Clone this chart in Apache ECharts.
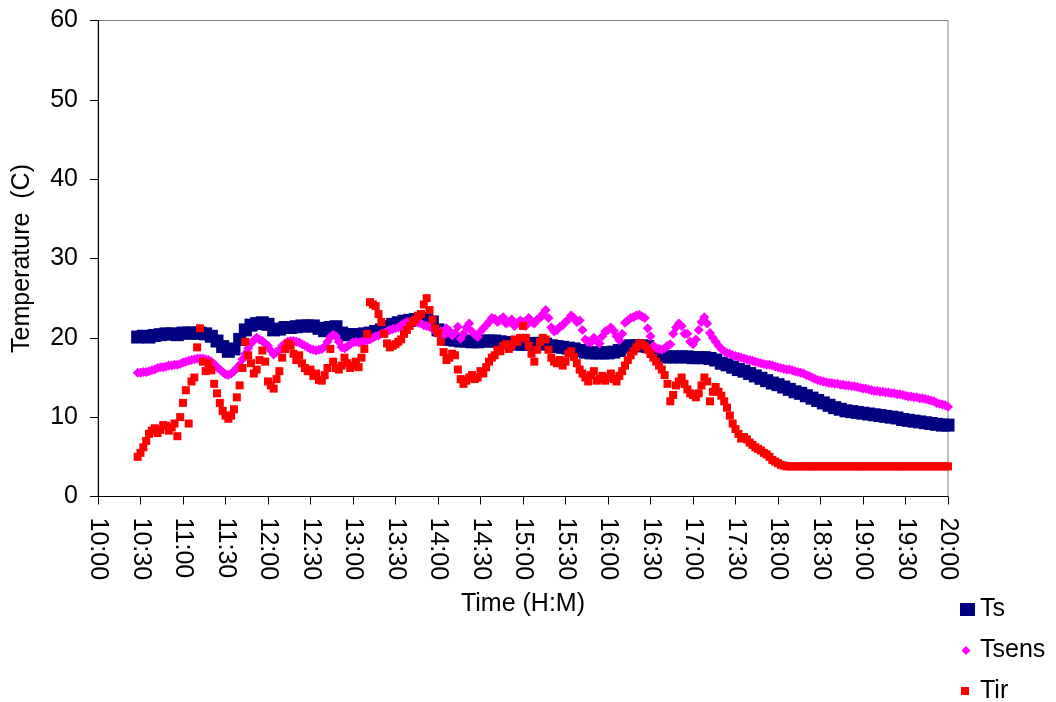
<!DOCTYPE html>
<html>
<head>
<meta charset="utf-8">
<script src="https://cdn.jsdelivr.net/npm/echarts@6/dist/echarts.min.js"></script>
<style>
  html, body { margin: 0; padding: 0; background: #ffffff; }
  #chart { width: 1056px; height: 702px; }
</style>
</head>
<body>
<div id="chart"></div>
<script>
// Ts readings, one every 4 minutes (H:MM)
const tsTimes = [
  '10:28','10:32','10:36','10:40','10:44','10:48','10:52','10:56',
  '11:00','11:04','11:08','11:12','11:16','11:20','11:24','11:28','11:32','11:36','11:40','11:44','11:48','11:52','11:56',
  '12:00','12:04','12:08','12:12','12:16','12:20','12:24','12:28','12:32','12:36','12:40','12:44','12:48','12:52','12:56',
  '13:00','13:04','13:08','13:12','13:16','13:20','13:24','13:28','13:32','13:36','13:40','13:44','13:48','13:52','13:56',
  '14:00','14:04','14:08','14:12','14:16','14:20','14:24','14:28','14:32','14:36','14:40','14:44','14:48','14:52','14:56',
  '15:00','15:04','15:08','15:12','15:16','15:20','15:24','15:28','15:32','15:36','15:40','15:44','15:48','15:52','15:56',
  '16:00','16:04','16:08','16:12','16:16','16:20','16:24','16:28','16:32','16:36','16:40','16:44','16:48','16:52','16:56',
  '17:00','17:04','17:08','17:12','17:16','17:20','17:24','17:28','17:32','17:36','17:40','17:44','17:48','17:52','17:56',
  '18:00','18:04','18:08','18:12','18:16','18:20','18:24','18:28','18:32','18:36','18:40','18:44','18:48','18:52','18:56',
  '19:00','19:04','19:08','19:12','19:16','19:20','19:24','19:28','19:32','19:36','19:40','19:44','19:48','19:52','19:56',
  '20:00'
];

// Surface temperature Ts (C)
const tsValues = [
  20.1, 20.2, 20.1, 20.3, 20.4, 20.5, 20.5, 20.4,
  20.6, 20.6, 20.6, 20.6, 20.5, 20.2, 19.6, 18.9, 18.3, 18.6, 19.8, 21.0, 21.6, 21.8, 21.9,
  21.7, 21.0, 21.1, 21.3, 21.3, 21.4, 21.5, 21.5, 21.5, 21.2, 20.9, 21.3, 21.4, 20.6, 20.4,
  20.4, 20.4, 20.5, 20.6, 20.8, 21.0, 21.4, 21.7, 21.9, 22.1, 22.2, 22.3, 22.4, 22.4, 22.0,
  21.0, 20.2, 19.8, 19.7, 19.6, 19.6, 19.5, 19.5, 19.6, 19.6, 19.6, 19.5, 19.4, 19.3, 19.2,
  19.2, 19.2, 19.3, 19.3, 19.2, 19.0, 18.9, 18.8, 18.7, 18.6, 18.4, 18.2, 18.1, 18.1, 18.1,
  18.1, 18.2, 18.4, 18.8, 19.0, 19.0, 19.0, 18.9, 18.3, 17.8, 17.6, 17.6, 17.6, 17.6, 17.6,
  17.5, 17.5, 17.5, 17.4, 17.2, 16.8, 16.6, 16.3, 16.0, 15.8, 15.5, 15.2, 14.9, 14.6, 14.3,
  14.1, 13.8, 13.5, 13.2, 13.0, 12.7, 12.4, 12.1, 11.8, 11.5, 11.2, 11.0, 10.8, 10.7, 10.6,
  10.5, 10.4, 10.3, 10.2, 10.1, 10.0, 9.9, 9.7, 9.6, 9.5, 9.4, 9.3, 9.2, 9.1, 9.0,
  9.0
];

// Tsens and Tir readings, one every 2 minutes (H:MM)
const fastTimes = [
  '10:28','10:30','10:32','10:34','10:36','10:38','10:40','10:42','10:44','10:46','10:48','10:50','10:52','10:54','10:56','10:58',
  '11:00','11:02','11:04','11:06','11:08','11:10','11:12','11:14','11:16','11:18','11:20','11:22','11:24','11:26','11:28',
  '11:30','11:32','11:34','11:36','11:38','11:40','11:42','11:44','11:46','11:48','11:50','11:52','11:54','11:56','11:58',
  '12:00','12:02','12:04','12:06','12:08','12:10','12:12','12:14','12:16','12:18','12:20','12:22','12:24','12:26','12:28',
  '12:30','12:32','12:34','12:36','12:38','12:40','12:42','12:44','12:46','12:48','12:50','12:52','12:54','12:56','12:58',
  '13:00','13:02','13:04','13:06','13:08','13:10','13:12','13:14','13:16','13:18','13:20','13:22','13:24','13:26','13:28',
  '13:30','13:32','13:34','13:36','13:38','13:40','13:42','13:44','13:46','13:48','13:50','13:52','13:54','13:56','13:58',
  '14:00','14:02','14:04','14:06','14:08','14:10','14:12','14:14','14:16','14:18','14:20','14:22','14:24','14:26','14:28',
  '14:30','14:32','14:34','14:36','14:38','14:40','14:42','14:44','14:46','14:48','14:50','14:52','14:54','14:56','14:58',
  '15:00','15:02','15:04','15:06','15:08','15:10','15:12','15:14','15:16','15:18','15:20','15:22','15:24','15:26','15:28',
  '15:30','15:32','15:34','15:36','15:38','15:40','15:42','15:44','15:46','15:48','15:50','15:52','15:54','15:56','15:58',
  '16:00','16:02','16:04','16:06','16:08','16:10','16:12','16:14','16:16','16:18','16:20','16:22','16:24','16:26','16:28',
  '16:30','16:32','16:34','16:36','16:38','16:40','16:42','16:44','16:46','16:48','16:50','16:52','16:54','16:56','16:58',
  '17:00','17:02','17:04','17:06','17:08','17:10','17:12','17:14','17:16','17:18','17:20','17:22','17:24','17:26','17:28',
  '17:30','17:32','17:34','17:36','17:38','17:40','17:42','17:44','17:46','17:48','17:50','17:52','17:54','17:56','17:58',
  '18:00','18:02','18:04','18:06','18:08','18:10','18:12','18:14','18:16','18:18','18:20','18:22','18:24','18:26','18:28',
  '18:30','18:32','18:34','18:36','18:38','18:40','18:42','18:44','18:46','18:48','18:50','18:52','18:54','18:56','18:58',
  '19:00','19:02','19:04','19:06','19:08','19:10','19:12','19:14','19:16','19:18','19:20','19:22','19:24','19:26','19:28',
  '19:30','19:32','19:34','19:36','19:38','19:40','19:42','19:44','19:46','19:48','19:50','19:52','19:54','19:56','19:58',
  '20:00'
];

// Sensor temperature Tsens (C)
const tsensValues = [
  15.6, 15.6, 15.7, 15.7, 15.8, 15.9, 16.0, 16.2, 16.3, 16.3, 16.4, 16.5, 16.5, 16.6, 16.6, 16.7,
  16.9, 17.0, 17.1, 17.2, 17.3, 17.4, 17.4, 17.4, 17.3, 17.2, 17.0, 16.7, 16.3, 16.0, 15.7,
  15.4, 15.3, 15.5, 15.8, 16.2, 16.6, 17.3, 18.0, 18.7, 19.3, 19.7, 20.0, 19.8, 19.6, 19.3,
  19.0, 18.4, 17.9, 18.2, 18.5, 19.0, 19.3, 19.5, 19.6, 19.6, 19.5, 19.4, 19.2, 19.0, 18.8,
  18.6, 18.5, 18.4, 18.5, 18.6, 18.9, 19.5, 20.1, 20.4, 20.2, 19.5, 18.8, 18.7, 18.9, 19.2,
  19.4, 19.5, 19.4, 19.5, 19.6, 19.7, 19.8, 20.0, 20.2, 20.3, 20.5, 20.6, 20.8, 21.0, 21.1,
  21.2, 21.3, 21.6, 21.8, 22.0, 22.0, 22.1, 22.0, 21.9, 21.8, 21.6, 21.5, 21.4, 21.2, 20.9,
  20.5, 20.8, 20.3, 21.2, 20.9, 20.3, 20.6, 21.4, 19.9, 20.5, 21.3, 21.8, 20.8, 20.4, 20.1,
  20.8, 21.2, 21.6, 22.0, 22.5, 22.4, 22.0, 22.3, 22.6, 21.8, 22.0, 22.3, 21.5, 21.8, 22.2,
  22.0, 21.5, 22.5, 22.0, 21.8, 22.3, 22.5, 23.0, 23.5, 22.5, 21.3, 20.8, 21.0, 21.4, 21.6,
  22.0, 22.3, 22.8, 22.5, 22.0, 22.2, 21.0, 19.8, 19.5, 19.4, 20.0, 19.6, 19.3, 20.2, 20.8,
  21.0, 21.3, 20.9, 20.2, 19.7, 20.5, 21.9, 22.2, 22.5, 22.6, 22.8, 22.9, 22.7, 22.5, 21.2,
  20.2, 19.0, 18.7, 18.6, 18.5, 18.7, 19.0, 19.2, 20.5, 21.3, 21.8, 21.5, 20.5, 20.5, 19.5,
  19.2, 19.8, 21.0, 22.0, 22.6, 21.8, 20.6, 20.0, 19.5, 19.0, 18.6, 18.3, 18.1, 18.0, 17.8,
  17.7, 17.6, 17.5, 17.4, 17.3, 17.2, 17.1, 17.0, 16.9, 16.8, 16.7, 16.6, 16.6, 16.5, 16.4,
  16.3, 16.2, 16.1, 16.0, 16.0, 15.9, 15.8, 15.7, 15.6, 15.5, 15.3, 15.2, 15.0, 14.8, 14.7,
  14.6, 14.5, 14.4, 14.3, 14.3, 14.2, 14.2, 14.1, 14.1, 14.0, 14.0, 13.9, 13.9, 13.8, 13.7,
  13.6, 13.6, 13.5, 13.4, 13.3, 13.3, 13.2, 13.2, 13.1, 13.1, 13.0, 13.0, 12.9, 12.9, 12.8,
  12.7, 12.6, 12.6, 12.5, 12.5, 12.4, 12.4, 12.3, 12.2, 12.1, 12.0, 11.8, 11.7, 11.6, 11.5,
  11.3
];

// Infrared temperature Tir (C)
const tirValues = [
  5.0, 5.5, 6.2, 7.0, 7.9, 8.3, 8.6, 8.0, 8.4, 9.0, 8.9, 8.3, 8.7, 9.2, 7.6, 10.0,
  11.8, 13.4, 9.2, 14.5, 15.0, 18.8, 21.2, 17.0, 15.8, 16.8, 15.9, 14.2, 13.0, 11.8, 10.8,
  10.2, 9.8, 10.2, 11.0, 12.5, 14.0, 16.2, 19.5, 17.8, 16.8, 15.5, 16.0, 17.2, 18.4, 17.0,
  14.5, 14.0, 13.6, 14.8, 15.8, 17.5, 18.6, 19.3, 19.0, 18.0, 17.2, 17.8, 16.8, 16.2, 15.8,
  16.0, 15.2, 15.5, 14.7, 14.6, 15.3, 16.2, 18.6, 17.0, 16.2, 16.0, 16.5, 17.5, 16.8, 16.2,
  16.5, 17.0, 16.3, 17.5, 18.6, 20.5, 24.5, 24.2, 24.0, 23.0, 22.0, 20.5, 19.3, 18.8, 19.0,
  19.2, 19.5, 19.8, 20.5, 21.0, 21.5, 22.0, 22.3, 22.8, 23.0, 24.2, 25.0, 23.5, 22.3, 21.2,
  20.6, 19.5, 18.2, 17.2, 17.5, 18.0, 17.8, 16.0, 14.8, 14.2, 14.6, 15.0, 15.3, 14.8, 15.0,
  15.8, 15.5, 16.3, 17.0, 17.5, 17.8, 18.5, 18.3, 19.0, 19.2, 18.6, 19.0, 19.8, 19.5, 20.0,
  21.5, 20.0, 19.0, 18.0, 17.0, 18.5, 19.5, 20.0, 19.8, 18.5, 17.5, 17.0, 16.8, 17.2, 16.5,
  17.0, 18.0, 18.3, 17.6, 16.8, 16.0, 15.5, 15.0, 14.5, 15.3, 15.8, 14.6, 14.8, 15.2, 14.6,
  15.0, 15.5, 14.8, 14.5, 15.2, 15.8, 16.5, 17.2, 17.8, 18.3, 18.8, 19.3, 19.2, 19.0, 18.5,
  18.0, 17.5, 17.0, 16.5, 16.0, 15.3, 14.2, 12.0, 12.8, 14.0, 14.5, 15.0, 14.2, 13.5, 13.0,
  12.8, 12.5, 13.0, 14.0, 15.0, 14.5, 12.0, 13.2, 13.8, 13.2, 12.7, 12.0, 11.2, 10.2, 9.2,
  8.5, 7.9, 7.3, 7.5, 7.2, 6.8, 6.5, 6.2, 6.0, 5.8, 5.5, 5.3, 5.0, 4.6, 4.4,
  4.2, 4.0, 3.9, 3.8, 3.8, 3.8, 3.8, 3.8, 3.8, 3.8, 3.8, 3.8, 3.8, 3.8, 3.8,
  3.8, 3.8, 3.8, 3.8, 3.8, 3.8, 3.8, 3.8, 3.8, 3.8, 3.8, 3.8, 3.8, 3.8, 3.8,
  3.8, 3.8, 3.8, 3.8, 3.8, 3.8, 3.8, 3.8, 3.8, 3.8, 3.8, 3.8, 3.8, 3.8, 3.8,
  3.8, 3.8, 3.8, 3.8, 3.8, 3.8, 3.8, 3.8, 3.8, 3.8, 3.8, 3.8, 3.8, 3.8, 3.8,
  3.8
];

// Axis settings (minutes since midnight on x)
const xMin = '10:00';
const xMax = '20:00';
const xStepMinutes = 30;
const yTicks = [0, 10, 20, 30, 40, 50, 60];

const FONT = "'Liberation Sans', Arial, sans-serif";

function toMinutes(hm) {
  const p = hm.split(':');
  return Number(p[0]) * 60 + Number(p[1]);
}
function fmtMinutes(v) {
  const h = Math.floor(v / 60);
  const m = v % 60;
  return h + ':' + (m < 10 ? '0' + m : m);
}
function pairs(timeList, values) {
  return values.map((v, i) => [toMinutes(timeList[i]), v]);
}

const chart = echarts.init(document.getElementById('chart'), null, { renderer: 'canvas' });

const legendText = { fontFamily: FONT, fontSize: 25, color: '#000', lineHeight: 26 };

chart.setOption({
  animation: false,
  backgroundColor: '#ffffff',
  textStyle: { fontFamily: FONT },
  grid: {
    left: 98, top: 20.5, width: 850, height: 476,
    show: true, borderColor: '#808080', borderWidth: 1,
    containLabel: false, outerBoundsMode: 'none'
  },
  xAxis: {
    type: 'value',
    min: toMinutes(xMin), max: toMinutes(xMax), interval: xStepMinutes,
    name: 'Time (H:M)',
    nameLocation: 'middle', nameGap: 95,
    nameTextStyle: { fontFamily: FONT, fontSize: 25, color: '#000' },
    axisLine: { show: true, onZero: false, lineStyle: { color: '#000', width: 1 } },
    axisTick: { show: true, inside: false, length: 8, lineStyle: { color: '#000' } },
    axisLabel: {
      rotate: -90, margin: 21, fontFamily: FONT, fontSize: 25, color: '#000',
      formatter: fmtMinutes, showMinLabel: true, showMaxLabel: true
    },
    splitLine: { show: false }
  },
  yAxis: {
    type: 'value',
    min: yTicks[0], max: yTicks[yTicks.length - 1], interval: yTicks[1] - yTicks[0],
    name: 'Temperature  (C)',
    nameLocation: 'middle', nameGap: 63,
    nameTextStyle: { fontFamily: FONT, fontSize: 25, color: '#000' },
    axisLine: { show: true, onZero: false, lineStyle: { color: '#000', width: 1 } },
    axisTick: { show: true, inside: false, length: 8, lineStyle: { color: '#000' } },
    axisLabel: { margin: 20, fontFamily: FONT, fontSize: 25, color: '#000' },
    splitLine: { show: false }
  },
  legend: [
    {
      data: ['Ts'], left: 960, top: 596.5, padding: 0,
      itemWidth: 15, itemHeight: 13, icon: 'rect',
      textStyle: legendText
    },
    {
      data: ['Tsens'], left: 961.5, top: 637.5, padding: 0,
      itemWidth: 9, itemHeight: 9, icon: 'diamond',
      textStyle: Object.assign({}, legendText, { padding: [0, 0, 0, 4.5] })
    },
    {
      data: ['Tir'], left: 961, top: 678, padding: 0,
      itemWidth: 8, itemHeight: 8, icon: 'rect',
      textStyle: Object.assign({}, legendText, { padding: [0, 0, 0, 6] })
    }
  ],
  series: [
    {
      name: 'Ts', type: 'scatter', symbol: 'rect', symbolSize: [13, 13],
      itemStyle: { color: '#000080', opacity: 1 },
      data: pairs(tsTimes, tsValues)
    },
    {
      name: 'Tsens', type: 'scatter', symbol: 'diamond', symbolSize: [10, 10],
      itemStyle: { color: '#FF00FF', opacity: 1 },
      data: pairs(fastTimes, tsensValues)
    },
    {
      name: 'Tir', type: 'scatter', symbol: 'rect', symbolSize: [8, 8],
      itemStyle: { color: '#FF0000', opacity: 1 },
      data: pairs(fastTimes, tirValues)
    }
  ]
});
</script>
</body>
</html>
